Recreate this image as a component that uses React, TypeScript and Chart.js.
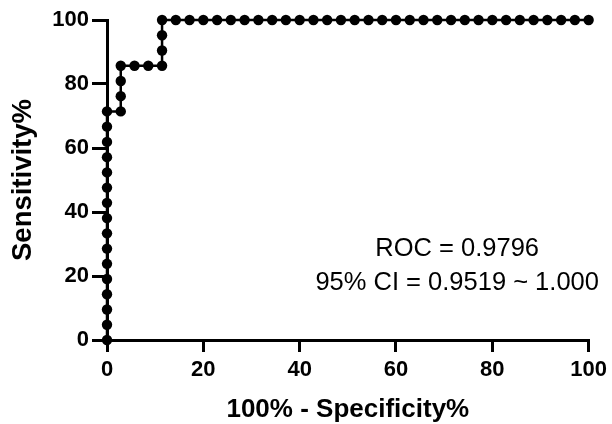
import React, { useEffect, useRef } from "react";
import { Chart, registerables } from "chart.js";

Chart.register(...registerables);

// 100% - Specificity% (x) and Sensitivity% (y) for each ROC point
const fprValues: number[] = [
  0, 0, 0, 0, 0, 0, 0, 0, 0, 0, 0, 0, 0, 0, 0, 0,
  2.857, 2.857, 2.857, 2.857,
  5.714, 8.571, 11.43,
  11.43, 11.43, 11.43,
  14.29, 17.14, 20, 22.86, 25.71, 28.57, 31.43, 34.29, 37.14, 40,
  42.86, 45.71, 48.57, 51.43, 54.29, 57.14, 60, 62.86, 65.71, 68.57,
  71.43, 74.29, 77.14, 80, 82.86, 85.71, 88.57, 91.43, 94.29, 97.14, 100,
];
const sensitivityValues: number[] = [
  0, 4.76, 9.52, 14.29, 19.05, 23.81, 28.57, 33.33, 38.1, 42.86, 47.62, 52.38, 57.14, 61.9, 66.67, 71.43,
  71.43, 76.19, 80.95, 85.71,
  85.71, 85.71, 85.71,
  90.48, 95.24, 100,
  100, 100, 100, 100, 100, 100, 100, 100, 100, 100,
  100, 100, 100, 100, 100, 100, 100, 100, 100, 100,
  100, 100, 100, 100, 100, 100, 100, 100, 100, 100, 100,
];
const xTicks: number[] = [0, 20, 40, 60, 80, 100];
const yTicks: number[] = [0, 20, 40, 60, 80, 100];
const annotationLines: string[] = ["ROC = 0.9796", "95% CI = 0.9519 ~ 1.000"];
const annotationX = 72.7;
const annotationY: number[] = [26.2, 15.6];

const xTitle = "100% - Specificity%";
const yTitle = "Sensitivity%";

export default function App() {
  const canvasRef = useRef<HTMLCanvasElement | null>(null);

  useEffect(() => {
    document.body.style.margin = "0";
    const canvas = canvasRef.current;
    if (!canvas) return;
    const points = fprValues.map((x, i) => ({ x, y: sensitivityValues[i] }));

    const annotationPlugin = {
      id: "rocText",
      afterDraw(chart: any) {
        const ctx = chart.ctx;
        const xs = chart.scales.x;
        const ys = chart.scales.y;
        ctx.save();
        ctx.fillStyle = "#000";
        ctx.font = "25.5px 'Liberation Sans', Arial, sans-serif";
        ctx.textAlign = "center";
        ctx.textBaseline = "alphabetic";
        annotationLines.forEach((t, i) => {
          ctx.fillText(t, xs.getPixelForValue(annotationX), ys.getPixelForValue(annotationY[i]));
        });
        ctx.restore();
      },
    };

    const tickFont = { family: "'Liberation Sans', Arial, sans-serif", size: 22, weight: "bold" as const };
    const xTitleFont = { family: "'Liberation Sans', Arial, sans-serif", size: 26, weight: "bold" as const, lineHeight: 1 };
    const yTitleFont = { family: "'Liberation Sans', Arial, sans-serif", size: 27.5, weight: "bold" as const, lineHeight: 1 };

    const chart = new Chart(canvas, {
      type: "scatter",
      data: {
        datasets: [
          {
            data: points,
            showLine: true,
            borderColor: "#000",
            backgroundColor: "#000",
            borderWidth: 2.5,
            pointRadius: 5.2,
            pointBorderWidth: 0,
            pointBackgroundColor: "#000",
            clip: false as any,
          },
        ],
      },
      options: {
        animation: false,
        responsive: false,
        layout: { padding: { left: 0, top: 20, right: 22, bottom: 0 } },
        plugins: { legend: { display: false }, tooltip: { enabled: false } },
        scales: {
          x: {
            type: "linear",
            min: 0,
            max: 100,
            afterBuildTicks: (scale: any) => {
              scale.ticks = xTicks.map((v) => ({ value: v }));
            },
            afterFit: (scale: any) => {
              scale.height = 84;
            },
            border: { display: true, color: "#000", width: 3 },
            grid: { display: true, drawOnChartArea: false, drawTicks: true, tickLength: 12, lineWidth: 3, color: "#000" },
            ticks: { color: "#000", font: tickFont, padding: 5, maxRotation: 0, autoSkip: false },
            title: { display: true, text: xTitle, color: "#000", font: xTitleFont, padding: { top: 0, bottom: 1 } },
          },
          y: {
            type: "linear",
            min: 0,
            max: 100,
            afterBuildTicks: (scale: any) => {
              scale.ticks = yTicks.map((v) => ({ value: v }));
            },
            afterFit: (scale: any) => {
              scale.width = 107;
            },
            border: { display: true, color: "#000", width: 3 },
            grid: { display: true, drawOnChartArea: false, drawTicks: true, tickLength: 15, lineWidth: 3, color: "#000" },
            ticks: { color: "#000", font: tickFont, padding: 3, autoSkip: false },
            title: { display: true, text: yTitle, color: "#000", font: yTitleFont, padding: { top: 10, bottom: 0 } },
          },
        },
      },
      plugins: [annotationPlugin],
    });

    return () => chart.destroy();
  }, []);

  return (
    <div style={{ width: 612, height: 424 }}>
      <canvas ref={canvasRef} width={612} height={424} style={{ display: "block" }} />
    </div>
  );
}
